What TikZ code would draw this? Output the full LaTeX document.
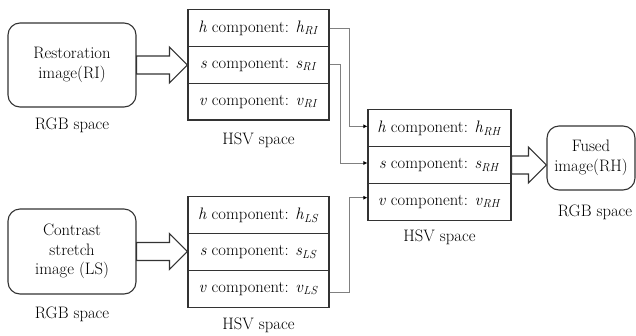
\documentclass[tikz,border=0pt]{standalone}
\usetikzlibrary{arrows.meta,calc}

\definecolor{edge}{HTML}{333333}
\definecolor{wire}{HTML}{808080}

% one HSV component row: italic letter, label, italic subscripted value
\newcommand\comprow[2]{\textit{#1} component: \textit{#1}\textsubscript{\textit{#2}}}

% hollow block arrow from the first point to the x of the second point
\newcommand\fatarrow[2]{%
  \path let \p1=(#1), \p2=(#2) in
    [fatarr] (\x1,\y1+9pt) -- (\x2-18pt,\y1+9pt) -- (\x2-18pt,\y1+18pt)
    -- (\x2,\y1) -- (\x2-18pt,\y1-18pt) -- (\x2-18pt,\y1-9pt)
    -- (\x1,\y1-9pt) -- cycle;}

\tikzset{
  txt/.style={font=\fontsize{16.6}{19.5}\selectfont},
  imgbox/.style={txt, draw=edge, line width=1.1pt, rounded corners=12pt,
    align=center, inner sep=0pt},
  row/.style={txt, draw=edge, line width=1.1pt, minimum height=36.8pt,
    inner sep=0pt},
  toprow/.style={row, minimum width=141pt},
  midrow/.style={row, minimum width=143pt},
  caption/.style={txt, inner sep=0pt},
  fatarr/.style={draw=edge, line width=1.1pt, fill=white, line join=miter},
  wire/.style={draw=wire, line width=0.8pt,
    -{Latex[length=4pt,width=4pt,color=black]}},
}

\begin{document}
\begin{tikzpicture}[x=1pt,y=-1pt]
\useasboundingbox (0,0) rectangle (636,335);

% source images in RGB space
\node[imgbox, minimum width=128pt, minimum height=84pt] (ri) at (72,65)
  {Restoration\\image(RI)};
\node[caption] (rgb1) at (72,125) {RGB space};

\node[imgbox, minimum width=128pt, minimum height=85pt] (ls) at (72,251.5)
  {Contrast\\stretch\\image (LS)};
\node[caption] (rgb2) at (72,314) {RGB space};

% HSV decomposition of the restoration image
\node[toprow] (rih) at (258.5,27.9)  {\comprow{h}{RI}};
\node[toprow] (ris) at (258.5,64.75) {\comprow{s}{RI}};
\node[toprow] (riv) at (258.5,101.6) {\comprow{v}{RI}};
\node[caption] (hsv1) at (258.5,140) {HSV space};

% HSV decomposition of the contrast stretched image
\node[toprow] (lsh) at (258.5,215.3) {\comprow{h}{LS}};
\node[toprow] (lss) at (258.5,252)   {\comprow{s}{LS}};
\node[toprow] (lsv) at (258.5,288.7) {\comprow{v}{LS}};
\node[caption] (hsv2) at (258.5,325) {HSV space};

% fused HSV components
\node[midrow] (rhh) at (439.5,128.3) {\comprow{h}{RH}};
\node[midrow] (rhs) at (439.5,165)   {\comprow{s}{RH}};
\node[midrow] (rhv) at (439.5,201.7) {\comprow{v}{RH}};
\node[caption] (hsv3) at (439.5,237) {HSV space};

% fused result
\node[imgbox, minimum width=88pt, minimum height=64pt] (rh) at (591,158)
  {Fused\\image(RH)};
\node[caption] (rgb3) at (595,212) {RGB space};

% conversions into HSV and back
\fatarrow{ri.east}{ris.west}
\fatarrow{ls.east}{lss.west}
\fatarrow{rhs.east}{rh.west}

% components carried into the fused image
\draw[wire] (rih.east) -- ++(20,0) |- ([yshift=2pt]rhh.west);
\draw[wire] (ris.east) -- ++(11,0) |- ([yshift=2pt]rhs.west);
\draw[wire] ([yshift=-4pt]lsv.east) -- ++(20,0) |- ([yshift=4pt]rhv.west);
\end{tikzpicture}
\end{document}
